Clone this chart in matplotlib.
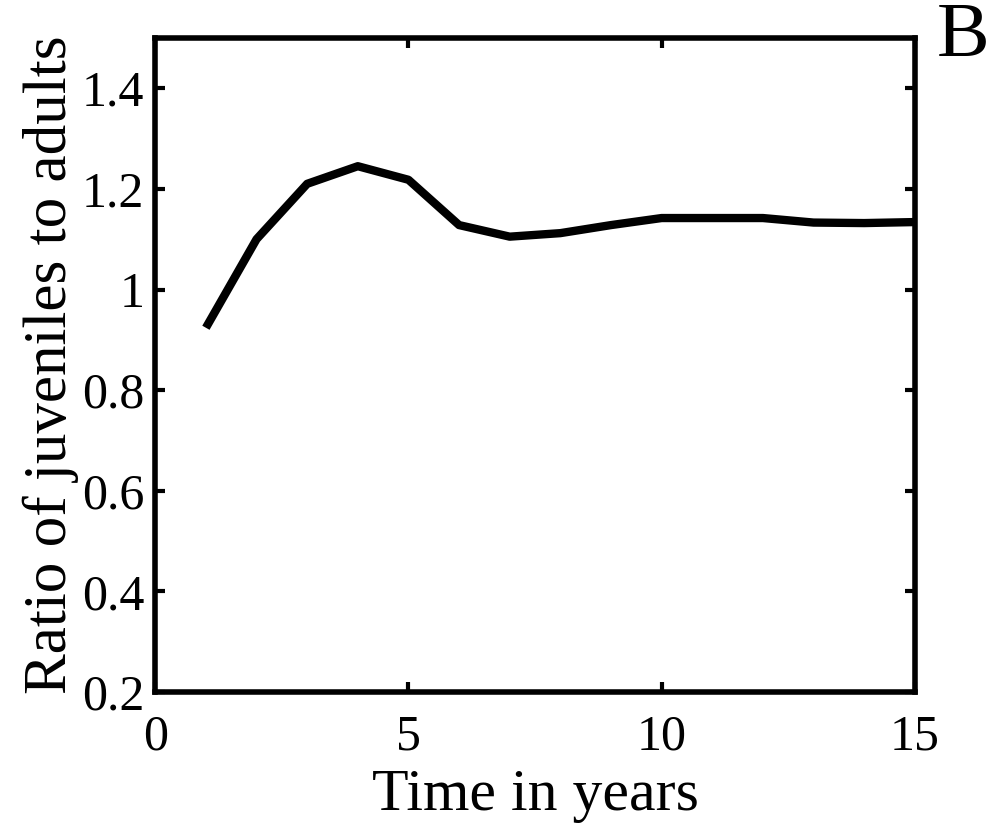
import numpy as np
import matplotlib.pyplot as plt

# Ratio of juveniles to adults, one value per year
years = [1, 2, 3, 4, 5, 6, 7, 8, 9, 10, 11, 12, 13, 14, 15]
ratio = [0.924, 1.10, 1.21, 1.245, 1.218, 1.128, 1.105, 1.112, 1.128,
         1.142, 1.142, 1.142, 1.133, 1.132, 1.134]

x_ticks = [0, 5, 10, 15]
y_ticks = [0.2, 0.4, 0.6, 0.8, 1.0, 1.2, 1.4]
y_tick_labels = ['0.2', '0.4', '0.6', '0.8', '1', '1.2', '1.4']

plt.rcParams['font.family'] = ['Liberation Serif', 'DejaVu Serif']

fig = plt.figure(figsize=(9.89, 8.23), dpi=100)
ax = fig.add_axes([0.157, 0.159, 0.768, 0.795])

ax.plot(years, ratio, color='black', linewidth=6, solid_capstyle='butt')

ax.set_xlim(0, 15)
ax.set_ylim(0.2, 1.5)
ax.set_xticks(x_ticks)
ax.set_yticks(y_ticks)
ax.set_yticklabels(y_tick_labels)

for side in ax.spines.values():
	side.set_linewidth(4)
ax.tick_params(direction='in', top=True, right=True, length=7, width=3,
               labelsize=36)
ax.tick_params(axis='x', pad=16)
ax.tick_params(axis='y', pad=8)

ax.set_xlabel('Time in years', fontsize=43, labelpad=6)
ax.set_ylabel('Ratio of juveniles to adults', fontsize=44, labelpad=2)

fig.text(0.974, 0.955, 'B', fontsize=57, ha='center', va='center')

fig.savefig('out.png', dpi=100)
